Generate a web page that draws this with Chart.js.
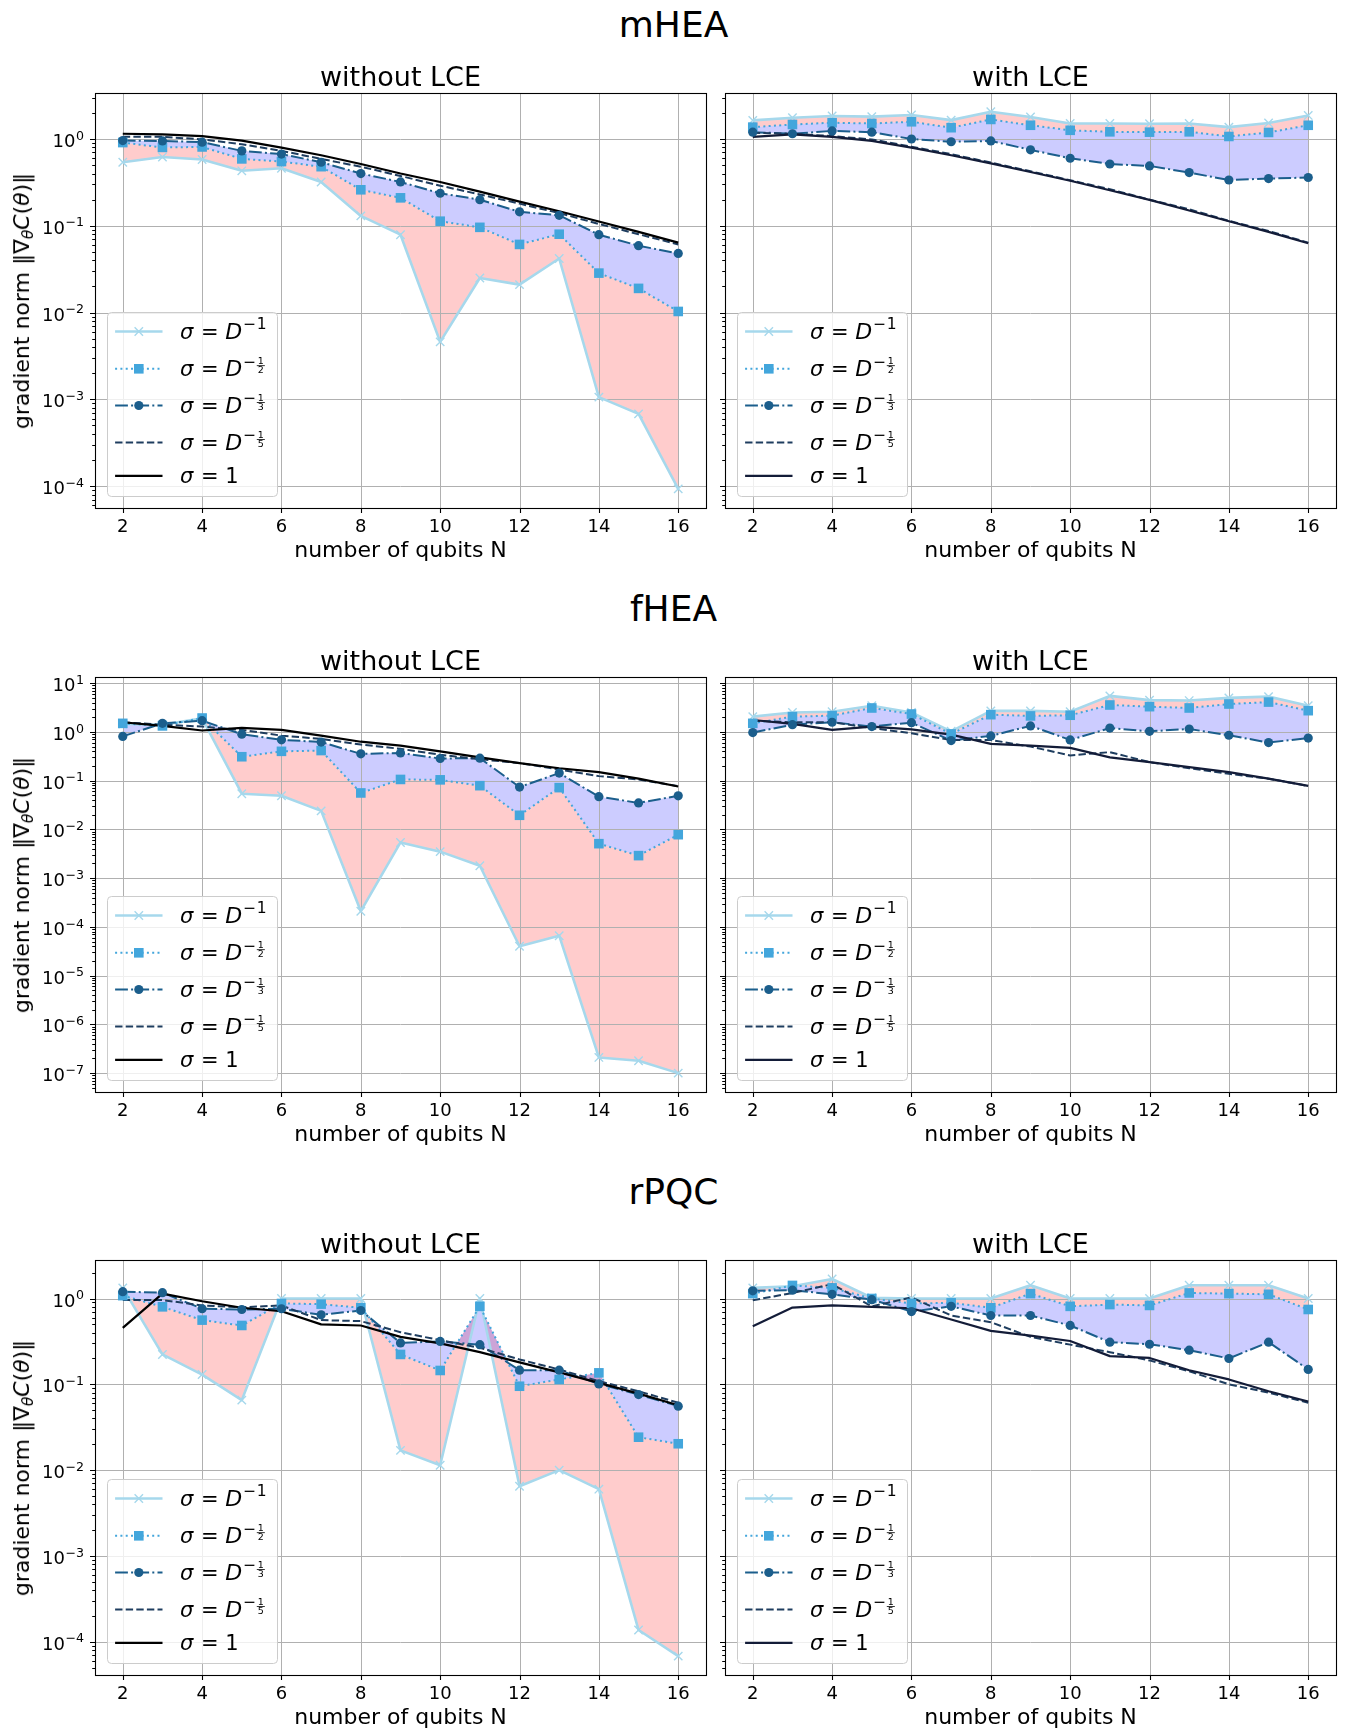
<!DOCTYPE html>
<html>
<head>
<meta charset="utf-8">
<script src="https://cdn.jsdelivr.net/npm/chart.js@4.4.1/dist/chart.umd.min.js"></script>
<style>
  body { margin: 0; background: #fff; }
  #fig { position: relative; width: 1347px; height: 1733px; font-family: 'DejaVu Sans', sans-serif; color: #000; }
  #fig canvas { position: absolute; }
  .txt { position: absolute; white-space: nowrap; line-height: 1; }
  .sub { font-size: 0.7em; position: relative; top: 0.28em; }
</style>
</head>
<body>
<div id="fig"></div>
<script>
// gradient norm vs number of qubits, three ansaetze, without / with LCE

const qubits = [2, 3, 4, 5, 6, 7, 8, 9, 10, 11, 12, 13, 14, 15, 16];
const xTicks = [2, 4, 6, 8, 10, 12, 14, 16];

// --- mHEA ---
const mheaWithoutDm1  = [0.54, 0.62, 0.58, 0.43, 0.46, 0.32, 0.13, 0.079, 0.0046, 0.025, 0.021, 0.042, 0.00106, 0.00068, 0.000093];
const mheaWithoutDm12 = [0.91, 0.80, 0.81, 0.59, 0.55, 0.48, 0.26, 0.21, 0.113, 0.096, 0.061, 0.080, 0.0285, 0.019, 0.0103];
const mheaWithoutDm13 = [0.96, 0.95, 0.92, 0.73, 0.67, 0.54, 0.40, 0.32, 0.237, 0.20, 0.145, 0.132, 0.079, 0.059, 0.048];
const mheaWithoutDm15 = [1.06, 1.06, 0.99, 0.87, 0.73, 0.59, 0.48, 0.375, 0.29, 0.23, 0.18, 0.14, 0.105, 0.08, 0.061];
const mheaWithoutS1   = [1.15, 1.13, 1.08, 0.957, 0.795, 0.65, 0.516, 0.40, 0.32, 0.248, 0.19, 0.147, 0.112, 0.085, 0.064];

const mheaWithDm1  = [1.64, 1.76, 1.84, 1.81, 1.89, 1.65, 2.06, 1.79, 1.51, 1.51, 1.50, 1.51, 1.37, 1.53, 1.87];
const mheaWithDm12 = [1.37, 1.47, 1.54, 1.51, 1.58, 1.35, 1.68, 1.44, 1.26, 1.21, 1.20, 1.21, 1.07, 1.19, 1.44];
const mheaWithDm13 = [1.20, 1.15, 1.24, 1.20, 1.00, 0.93, 0.95, 0.75, 0.60, 0.515, 0.49, 0.41, 0.337, 0.35, 0.36];
const mheaWithDm15 = [1.18, 1.15, 1.08, 0.99, 0.816, 0.67, 0.535, 0.425, 0.335, 0.264, 0.20, 0.155, 0.114, 0.087, 0.064];
const mheaWithS1   = [1.06, 1.13, 1.06, 0.95, 0.795, 0.65, 0.525, 0.417, 0.33, 0.257, 0.199, 0.15, 0.113, 0.085, 0.063];

// --- fHEA ---
const fheaWithoutDm1  = [1.45, 1.40, 1.90, 0.054, 0.049, 0.024, 0.00021, 0.0054, 0.0035, 0.0018, 0.00004, 0.000066, 2.1e-7, 1.8e-7, 1.0e-7];
const fheaWithoutDm12 = [1.50, 1.33, 1.93, 0.31, 0.40, 0.415, 0.056, 0.106, 0.104, 0.079, 0.0195, 0.072, 0.0051, 0.0029, 0.0078];
const fheaWithoutDm13 = [0.81, 1.50, 1.70, 0.90, 0.69, 0.62, 0.355, 0.37, 0.285, 0.29, 0.074, 0.143, 0.047, 0.035, 0.049];
const fheaWithoutDm15 = [1.58, 1.41, 1.29, 1.10, 0.84, 0.72, 0.55, 0.45, 0.34, 0.275, 0.23, 0.17, 0.124, 0.106, 0.077];
const fheaWithoutS1   = [1.58, 1.33, 1.07, 1.21, 1.10, 0.84, 0.63, 0.525, 0.40, 0.30, 0.23, 0.18, 0.15, 0.11, 0.076];

const fheaWithDm1  = [2.06, 2.5, 2.6, 3.46, 2.5, 1.03, 2.7, 2.7, 2.6, 5.5, 4.5, 4.4, 5.0, 5.3, 3.46];
const fheaWithDm12 = [1.5, 2.06, 2.16, 3.1, 2.33, 0.91, 2.26, 2.13, 2.2, 3.57, 3.3, 3.1, 3.74, 4.1, 2.73];
const fheaWithDm13 = [0.97, 1.41, 1.58, 1.29, 1.55, 0.665, 0.83, 1.33, 0.686, 1.2, 1.03, 1.15, 0.855, 0.605, 0.75];
const fheaWithDm15 = [1.7, 1.58, 1.58, 1.2, 0.94, 0.686, 0.686, 0.50, 0.33, 0.385, 0.24, 0.18, 0.138, 0.11, 0.078];
const fheaWithS1   = [1.76, 1.46, 1.1, 1.29, 1.13, 0.88, 0.57, 0.525, 0.47, 0.30, 0.24, 0.19, 0.15, 0.11, 0.078];

// --- rPQC ---
const rpqcWithoutDm1  = [1.33, 0.223, 0.13, 0.0654, 1.0, 1.0, 1.0, 0.017, 0.0114, 1.0, 0.0065, 0.010, 0.006, 0.000137, 0.000068];
const rpqcWithoutDm12 = [1.08, 0.80, 0.56, 0.485, 0.875, 0.86, 0.78, 0.223, 0.145, 0.81, 0.095, 0.114, 0.136, 0.0242, 0.0203];
const rpqcWithoutDm13 = [1.2, 1.17, 0.76, 0.745, 0.76, 0.645, 0.725, 0.304, 0.316, 0.29, 0.146, 0.146, 0.101, 0.076, 0.0557];
const rpqcWithoutDm15 = [0.96, 0.96, 0.83, 0.79, 0.83, 0.56, 0.545, 0.405, 0.327, 0.266, 0.195, 0.149, 0.109, 0.083, 0.061];
const rpqcWithoutS1   = [0.455, 1.14, 0.93, 0.78, 0.71, 0.50, 0.485, 0.357, 0.30, 0.237, 0.18, 0.138, 0.104, 0.078, 0.057];

const rpqcWithDm1  = [1.33, 1.39, 1.69, 1.02, 1.0, 1.0, 1.0, 1.43, 1.0, 1.0, 1.0, 1.43, 1.43, 1.43, 1.0];
const rpqcWithDm12 = [1.14, 1.42, 1.33, 1.0, 0.875, 0.89, 0.78, 1.14, 0.81, 0.85, 0.83, 1.16, 1.14, 1.12, 0.745];
const rpqcWithDm13 = [1.23, 1.25, 1.12, 0.97, 0.705, 0.81, 0.634, 0.634, 0.485, 0.31, 0.293, 0.25, 0.2, 0.31, 0.149];
const rpqcWithDm15 = [0.955, 1.16, 1.47, 0.81, 1.03, 0.634, 0.53, 0.357, 0.29, 0.237, 0.19, 0.142, 0.10, 0.08, 0.061];
const rpqcWithS1   = [0.476, 0.785, 0.83, 0.80, 0.77, 0.57, 0.42, 0.37, 0.32, 0.213, 0.203, 0.146, 0.114, 0.083, 0.063];

const rowNames = ['mHEA', 'fHEA', 'rPQC'];
const colTitles = ['without LCE', 'with LCE'];
const xLabel = 'number of qubits N';
const yTickExps = [[0, -1, -2, -3, -4], [1, 0, -1, -2, -3, -4, -5, -6, -7], [0, -1, -2, -3, -4]];
const yLimits = [[5.6e-5, 3.39], [4.1e-8, 13.4], [4.1e-5, 2.81]];

const panelData = [
  [[mheaWithoutDm1, mheaWithoutDm12, mheaWithoutDm13, mheaWithoutDm15, mheaWithoutS1],
   [mheaWithDm1, mheaWithDm12, mheaWithDm13, mheaWithDm15, mheaWithS1]],
  [[fheaWithoutDm1, fheaWithoutDm12, fheaWithoutDm13, fheaWithoutDm15, fheaWithoutS1],
   [fheaWithDm1, fheaWithDm12, fheaWithDm13, fheaWithDm15, fheaWithS1]],
  [[rpqcWithoutDm1, rpqcWithoutDm12, rpqcWithoutDm13, rpqcWithoutDm15, rpqcWithoutS1],
   [rpqcWithDm1, rpqcWithDm12, rpqcWithDm13, rpqcWithDm15, rpqcWithS1]]
];

// styles per series (same order as the arrays above)
const seriesStyle = [
  { color: '#a6d8ec', width: 2.6, dash: [], marker: 'x', r: 4.2, fill: 'rgba(255,0,0,0.2)', label: { exp: '1' } },
  { color: '#43a6dc', width: 2, dash: [2, 3.3], marker: 'rect', r: 4.8, fill: 'rgba(0,0,255,0.2)', label: { frac: ['1', '2'] } },
  { color: '#1b5e8c', width: 2, dash: [12.8, 3.2, 2, 3.2], marker: 'circle', r: 4.6, label: { frac: ['1', '3'] } },
  { color: '#1e3d5f', width: 2, dash: [7.4, 3.2], marker: null, label: { frac: ['1', '5'] } },
  { color: null, width: 2.2, dash: [], marker: null, label: { one: true } }
];
const sigma1Color = ['#000000', '#131c38'];

// figure layout (px)
const FONT = "'DejaVu Sans'";
const rowTop = [93, 677, 1260];
const axH = 415, axW = 611;
const colLeft = [95, 725];
const padTop = 12, xAxisH = 34;

Chart.defaults.font.family = 'DejaVu Sans';
Chart.defaults.color = '#000';

const fig = document.getElementById('fig');

function addText(html, cx, baseline, size) {
  const d = document.createElement('div');
  d.className = 'txt';
  d.style.fontSize = size + 'px';
  d.style.left = cx + 'px';
  d.style.top = (baseline - 0.846 * size) + 'px';
  d.style.transform = 'translateX(-50%)';
  d.innerHTML = html;
  fig.appendChild(d);
  return d;
}

function isDecade(v) {
  const l = Math.log10(v);
  return Math.abs(l - Math.round(l)) < 1e-6;
}

function yTicksFor(row) {
  const [lo, hi] = yLimits[row];
  const out = yTickExps[row].map(e => ({ value: Math.pow(10, e), major: true }));
  for (let k = Math.floor(Math.log10(lo)); k <= Math.ceil(Math.log10(hi)); k++) {
    for (let m = 2; m <= 9; m++) {
      const v = m * Math.pow(10, k);
      if (v >= lo && v <= hi) out.push({ value: v, major: false });
    }
  }
  return out.sort((a, b) => a.value - b.value);
}

function drawMarker(ctx, kind, x, y, r, color) {
  ctx.save();
  ctx.fillStyle = color;
  ctx.strokeStyle = color;
  ctx.setLineDash([]);
  if (kind === 'rect') {
    ctx.fillRect(x - r, y - r, 2 * r, 2 * r);
  } else if (kind === 'circle') {
    ctx.beginPath(); ctx.arc(x, y, r, 0, Math.PI * 2); ctx.fill();
  } else if (kind === 'x') {
    ctx.lineWidth = 1.4;
    ctx.beginPath();
    ctx.moveTo(x - r, y - r); ctx.lineTo(x + r, y + r);
    ctx.moveTo(x - r, y + r); ctx.lineTo(x + r, y - r);
    ctx.stroke();
  }
  ctx.restore();
}

// legend label like mathtext: sigma = D^{-1}, D^{-1/2} ...
function drawLabel(ctx, x, b, lab) {
  ctx.fillStyle = '#000';
  ctx.textAlign = 'left';
  ctx.textBaseline = 'alphabetic';
  ctx.font = `italic 21px ${FONT}`;
  ctx.fillText('σ', x, b); x += ctx.measureText('σ').width + 1;
  ctx.font = `21px ${FONT}`;
  if (lab.one) { ctx.fillText(' = 1', x, b); return; }
  ctx.fillText(' = ', x, b); x += ctx.measureText(' = ').width;
  ctx.font = `italic 22px ${FONT}`;
  ctx.fillText('D', x, b); x += ctx.measureText('D').width + 1;
  ctx.font = `15.5px ${FONT}`;
  ctx.fillText('−', x, b - 9.5); x += ctx.measureText('−').width + 0.5;
  if (lab.exp) {
    ctx.fillText(lab.exp, x, b - 9.5);
  } else {
    ctx.font = `9.5px ${FONT}`;
    const wn = ctx.measureText(lab.frac[0]).width;
    const wd = ctx.measureText(lab.frac[1]).width;
    const bw = Math.max(wn, wd) + 2;
    ctx.fillText(lab.frac[0], x + (bw - wn) / 2, b - 11.8);
    ctx.fillRect(x, b - 10.8, bw, 0.8);
    ctx.fillText(lab.frac[1], x + (bw - wd) / 2, b - 2.8);
  }
}

function roundRect(ctx, x, y, w, h, r) {
  ctx.beginPath();
  ctx.moveTo(x + r, y);
  ctx.lineTo(x + w - r, y); ctx.arcTo(x + w, y, x + w, y + r, r);
  ctx.lineTo(x + w, y + h - r); ctx.arcTo(x + w, y + h, x + w - r, y + h, r);
  ctx.lineTo(x + r, y + h); ctx.arcTo(x, y + h, x, y + h - r, r);
  ctx.lineTo(x, y + r); ctx.arcTo(x, y, x + r, y, r);
  ctx.closePath();
}

const legendRows = [19, 56.3, 93, 130, 163.3];

function drawLegend(ctx, ca, col) {
  const x0 = Math.round(ca.left + 11.7) + 0.5;
  const y1 = Math.round(ca.bottom - 12) + 0.5;
  const w = 170, h = 184, y0 = y1 - h;
  ctx.save();
  roundRect(ctx, x0, y0, w, h, 4);
  ctx.fillStyle = 'rgba(255,255,255,0.8)';
  ctx.fill();
  ctx.strokeStyle = '#cccccc';
  ctx.lineWidth = 1;
  ctx.stroke();
  seriesStyle.forEach((s, i) => {
    const color = s.color || sigma1Color[col];
    const yc = y0 + legendRows[i];
    ctx.beginPath();
    ctx.setLineDash(s.dash);
    ctx.strokeStyle = color;
    ctx.lineWidth = s.width;
    ctx.lineCap = 'butt';
    ctx.moveTo(x0 + 7.6, yc);
    ctx.lineTo(x0 + 55, yc);
    ctx.stroke();
    ctx.setLineDash([]);
    if (s.marker) drawMarker(ctx, s.marker, x0 + 31.3, yc, s.r, color);
    drawLabel(ctx, x0 + 72.6, yc + 7.3, s.label);
  });
  ctx.restore();
}

// y tick labels 10^k with a real superscript
function drawDecadeLabel(ctx, xRight, py, v) {
  const e = Math.round(Math.log10(v));
  const expTxt = e < 0 ? '−' + String(-e) : String(e);
  ctx.font = `12.6px ${FONT}`;
  const we = ctx.measureText(expTxt).width;
  ctx.font = `18px ${FONT}`;
  const wb = ctx.measureText('10').width;
  ctx.fillStyle = '#000';
  ctx.textAlign = 'left';
  ctx.textBaseline = 'alphabetic';
  const x = xRight - we - wb - 0.5;
  ctx.fillText('10', x, py + 8);
  ctx.font = `12.6px ${FONT}`;
  ctx.fillText(expTxt, x + wb + 0.5, py + 0.7);
}

// grid above the fills, frame, tick marks, tick labels, legend
function axesPlugin(col) {
  return {
    id: 'mplAxes',
    beforeDatasetsDraw(chart) {
      const { ctx, chartArea: ca, scales: { x, y } } = chart;
      ctx.save();
      ctx.strokeStyle = '#b0b0b0';
      ctx.lineWidth = 1;
      ctx.beginPath();
      x.ticks.forEach(t => {
        const px = Math.round(x.getPixelForValue(t.value)) + 0.5;
        ctx.moveTo(px, ca.top); ctx.lineTo(px, ca.bottom);
      });
      y.ticks.forEach(t => {
        if (!isDecade(t.value)) return;
        const py = Math.round(y.getPixelForValue(t.value)) + 0.5;
        ctx.moveTo(ca.left, py); ctx.lineTo(ca.right, py);
      });
      ctx.stroke();
      ctx.restore();
    },
    afterDraw(chart) {
      const { ctx, chartArea: ca, scales: { x, y } } = chart;
      ctx.save();
      ctx.strokeStyle = '#000';
      ctx.lineWidth = 1.1;
      ctx.strokeRect(Math.round(ca.left) + 0.5, Math.round(ca.top) + 0.5,
                     Math.round(ca.right - ca.left), Math.round(ca.bottom - ca.top));
      ctx.beginPath();
      y.ticks.forEach(t => {
        const py = Math.round(y.getPixelForValue(t.value)) + 0.5;
        const len = isDecade(t.value) ? 5 : 2.8;
        ctx.moveTo(ca.left - len, py); ctx.lineTo(ca.left, py);
      });
      x.ticks.forEach(t => {
        const px = Math.round(x.getPixelForValue(t.value)) + 0.5;
        ctx.moveTo(px, ca.bottom); ctx.lineTo(px, ca.bottom + 5);
      });
      ctx.stroke();
      if (col === 0) {
        y.ticks.forEach(t => {
          if (isDecade(t.value)) drawDecadeLabel(ctx, ca.left - 11, y.getPixelForValue(t.value), t.value);
        });
      }
      ctx.restore();
      drawLegend(ctx, ca, col);
    }
  };
}

function buildDatasets(values, col) {
  const ds = seriesStyle.map((s, i) => {
    const color = s.color || sigma1Color[col];
    return {
      data: qubits.map((q, j) => ({ x: q, y: values[i][j] })),
      borderColor: color,
      borderWidth: s.width,
      borderDash: s.dash,
      borderCapStyle: 'butt',
      borderJoinStyle: 'round',
      pointRadius: 0,
      backgroundColor: s.fill || 'rgba(0,0,0,0)',
      fill: s.fill ? '-1' : false,
      tension: 0,
      _marker: s.marker, _r: s.r
    };
  });
  // matplotlib draws later series on top; chart.js draws dataset 0 last
  return ds.reverse();
}

// markers on top of every line, in plotting order
const markerPlugin = {
  id: 'markers',
  afterDatasetsDraw(chart) {
    const { ctx, chartArea: ca } = chart;
    ctx.save();
    ctx.beginPath();
    ctx.rect(ca.left, ca.top, ca.right - ca.left, ca.bottom - ca.top);
    ctx.clip();
    const n = chart.data.datasets.length;
    for (let i = n - 1; i >= 0; i--) {
      const d = chart.data.datasets[i];
      if (!d._marker) continue;
      chart.getDatasetMeta(i).data.forEach(pt => drawMarker(ctx, d._marker, pt.x, pt.y, d._r, d.borderColor));
    }
    ctx.restore();
  }
};

function makePanel(row, col) {
  const canvas = document.createElement('canvas');
  const left = col === 0 ? 0 : 712;
  const width = col === 0 ? 712 : 1347 - 712;
  const top = rowTop[row] - padTop;
  const height = padTop + axH + xAxisH;
  canvas.width = width; canvas.height = height;
  canvas.style.left = left + 'px'; canvas.style.top = top + 'px';
  canvas.style.width = width + 'px'; canvas.style.height = height + 'px';
  fig.appendChild(canvas);

  const yW = colLeft[col] - left;
  const padRight = width - (colLeft[col] + axW - left);

  new Chart(canvas, {
    type: 'line',
    data: { datasets: buildDatasets(panelData[row][col], col) },
    options: {
      responsive: false,
      animation: false,
      devicePixelRatio: 1,
      events: [],
      layout: { padding: { left: 0, right: padRight, top: padTop, bottom: 0 } },
      plugins: {
        legend: { display: false },
        tooltip: { enabled: false },
        filler: { drawTime: 'beforeDatasetsDraw' }
      },
      scales: {
        x: {
          type: 'linear',
          min: 1.3, max: 16.7,
          grid: { display: false },
          border: { display: false },
          afterBuildTicks: s => { s.ticks = xTicks.map(v => ({ value: v })); },
          afterFit: s => { s.height = xAxisH; s.paddingLeft = 0; s.paddingRight = 0; s.paddingTop = 0; s.paddingBottom = 0; },
          ticks: {
            autoSkip: false, maxRotation: 0, padding: 1,
            font: { size: 18, family: 'DejaVu Sans' }, color: '#000',
            callback: v => String(v)
          }
        },
        y: {
          type: 'logarithmic',
          min: yLimits[row][0], max: yLimits[row][1],
          grid: { display: false },
          border: { display: false },
          afterBuildTicks: s => { s.ticks = yTicksFor(row); },
          afterFit: s => { s.width = yW; s.paddingLeft = 0; s.paddingRight = 0; s.paddingTop = 0; s.paddingBottom = 0; },
          ticks: { display: false, autoSkip: false }
        }
      }
    },
    plugins: [markerPlugin, axesPlugin(col)]
  });
}

for (let r = 0; r < 3; r++) {
  addText(rowNames[r], 673.5, rowTop[r] - 56, 36);
  for (let c = 0; c < 2; c++) {
    makePanel(r, c);
    const cx = colLeft[c] + axW / 2;
    addText(colTitles[c], cx, rowTop[r] - 7.5, 27);
    addText(xLabel, cx, rowTop[r] + axH + 50, 22);
  }
  const yl = addText('gradient norm ‖∇<span class="sub"><i>θ</i></span><i>C</i>(<i>θ</i>)‖', 22.4, 0, 22);
  yl.style.top = (rowTop[r] + axH / 2) + 'px';
  yl.style.left = '22.4px';
  yl.style.transform = 'translate(-50%, -50%) rotate(-90deg)';
}
</script>
</body>
</html>
